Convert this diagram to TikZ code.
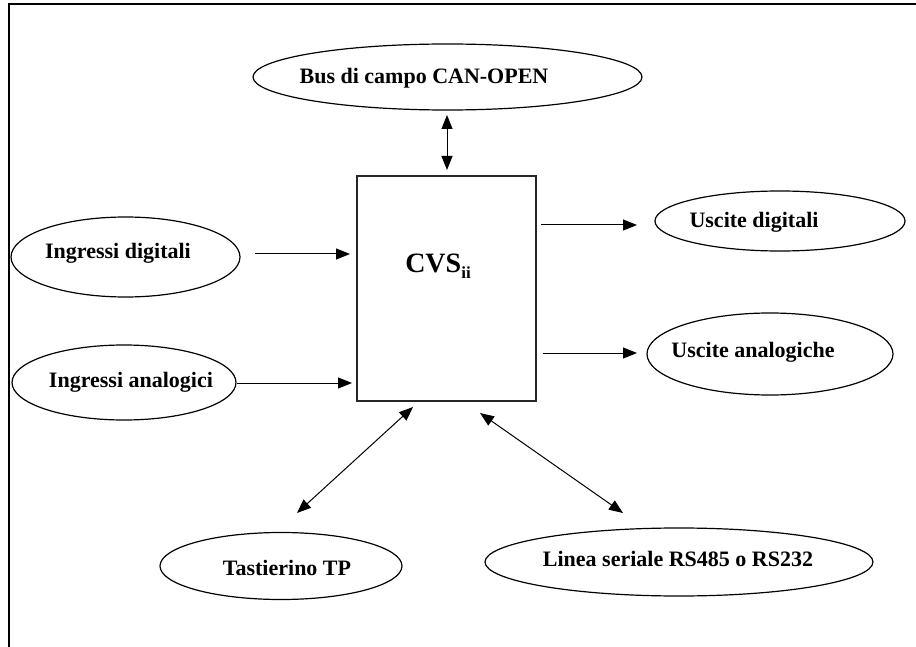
\documentclass[tikz,border=0pt]{standalone}
\usepackage{fontspec}
\setmainfont{Liberation Serif}
\usetikzlibrary{shapes.geometric,arrows.meta}
\begin{document}
\begin{tikzpicture}[x=1pt,y=-1pt,
  ell/.style={draw, ellipse, line width=1.2pt, inner sep=0pt},
  lbl/.style={font=\fontsize{22}{24}\selectfont\bfseries, inner sep=0pt},
  arr/.style={line width=1pt, -{Triangle[length=14pt,width=11pt]}},
  darr/.style={line width=1pt, {Triangle[length=14pt,width=11pt]}-{Triangle[length=14pt,width=11pt]}},
  frame/.style={line width=2.4pt}]
\useasboundingbox (0,0) rectangle (916,647);
% frame
\coordinate (fa) at (9,647);
\coordinate (fb) at (9,4.3);
\coordinate (fc) at (916,4.3);
\draw[frame] (fa) -- (fb) -- (fc);
% central box
\node[draw=black!85, line width=1.2pt, minimum width=179pt, minimum height=225pt, inner sep=0pt] (box) at (446.5,288.5) {};
\node[inner sep=0pt, font=\fontsize{28}{30}\selectfont\bfseries] (cvs) at (438,266) {CVS\raisebox{-6pt}{\fontsize{17}{18}\selectfont ii}};
% ellipses
\node[ell, minimum width=389pt, minimum height=66pt] (bus) at (447.5,77) {};
\node[lbl] (tbus) at (424,78) {Bus di campo CAN-OPEN};
\node[ell, minimum width=229pt, minimum height=80pt] (ind) at (125.5,257) {};
\node[lbl] (tind) at (118,253) {Ingressi digitali};
\node[ell, minimum width=224pt, minimum height=75pt] (ina) at (124,382.5) {};
\node[lbl] (tina) at (131,382) {Ingressi analogici};
\node[ell, minimum width=250pt, minimum height=60pt] (usd) at (780,221) {};
\node[lbl] (tusd) at (754,222) {Uscite digitali};
\node[ell, minimum width=246pt, minimum height=82pt] (usa) at (770,354) {};
\node[lbl] (tusa) at (753,352) {Uscite analogiche};
\node[ell, minimum width=242pt, minimum height=67pt] (tas) at (281,566) {};
\node[lbl] (ttas) at (287,568) {Tastierino TP};
\node[ell, minimum width=388pt, minimum height=68pt] (lin) at (679,562) {};
\node[lbl] (tlin) at (678,559) {Linea seriale RS485 o RS232};
% arrow end points
\coordinate (b1) at (447,115);
\coordinate (b2) at (447,170);
\coordinate (d1) at (255,254);
\coordinate (d2) at (350,254);
\coordinate (a1) at (237,383);
\coordinate (a2) at (352,383);
\coordinate (u1) at (541,225);
\coordinate (u2) at (637,225);
\coordinate (v1) at (543,353);
\coordinate (v2) at (637,353);
\coordinate (t1) at (297,513);
\coordinate (t2) at (413,407);
\coordinate (l1) at (480,413);
\coordinate (l2) at (623,513);
% connectors
\draw[darr] (b1) -- (b2);
\draw[arr] (d1) -- (d2);
\draw[arr] (a1) -- (a2);
\draw[arr] (u1) -- (u2);
\draw[arr] (v1) -- (v2);
\draw[darr] (t1) -- (t2);
\draw[darr] (l1) -- (l2);
\end{tikzpicture}
\end{document}
